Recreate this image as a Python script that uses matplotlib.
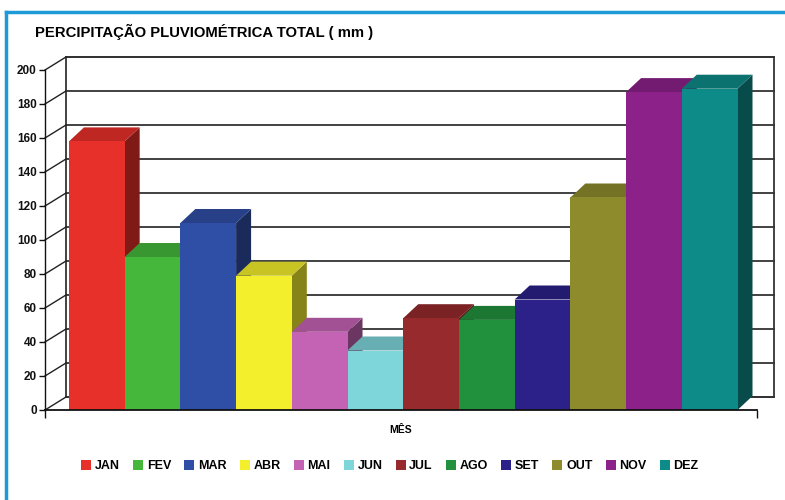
import matplotlib
matplotlib.use("Agg")
import matplotlib.pyplot as plt
from matplotlib.patches import Polygon, Rectangle
from matplotlib.lines import Line2D
import matplotlib.colors as mcolors

plt.rcParams['font.family'] = ['Liberation Sans', 'DejaVu Sans']

months = ["JAN", "FEV", "MAR", "ABR", "MAI", "JUN", "JUL", "AGO", "SET", "OUT", "NOV", "DEZ"]
values = [158, 90, 110, 79, 46, 35, 54, 53, 65, 125, 187, 189]
colors = ["#e8302a", "#45b83c", "#2f4ea6", "#f4ef2c", "#c463b4", "#7fd6da",
          "#962a2c", "#22913e", "#2b2189", "#8e8b2d", "#8b2189", "#0d8b89"]
yticks = [0, 20, 40, 60, 80, 100, 120, 140, 160, 180, 200]
title = "PERCIPITAÇÃO PLUVIOMÉTRICA TOTAL ( mm )"
xlabel = "MÊS"

W, H = 785, 500
fig = plt.figure(figsize=(W / 100, H / 100), dpi=100)
fig.patch.set_facecolor("white")

# axes: front plane from x=45..757, y=410..70 px
ax = fig.add_axes([45 / W, (H - 410) / H, (757 - 45) / W, (410 - 70) / H])
xmin, xmax = -0.43, 12.35
ax.set_xlim(xmin, xmax)
ax.set_ylim(0, 200)
ax.set_facecolor("none")

pxx = (757 - 45) / (xmax - xmin)   # px per x unit
pxy = (410 - 70) / 200.0          # px per y unit

def dxu(px):
    return px / pxx

def dyu(px):
    return px / pxy

# back wall
wl, wr, wdy = dxu(21), dxu(17), dyu(13)
wall = Polygon([(xmin + wl, wdy), (xmax + wr, wdy), (xmax + wr, 200 + wdy), (xmin + wl, 200 + wdy)],
               closed=True, facecolor="white", edgecolor="#222222", lw=1.2, clip_on=False, zorder=0)
ax.add_patch(wall)
for v in yticks:
    ax.plot([xmin + wl, xmax + wr], [v + wdy, v + wdy], color="#333333", lw=1.3,
            clip_on=False, zorder=0.5)
    ax.plot([xmin, xmin + wl], [v, v + wdy], color="#222222", lw=1.0, clip_on=False, zorder=0.5)

# 3D bars
bdx, bdy = dxu(15), dyu(14)

def shade(c, f):
    r, g, b = mcolors.to_rgb(c)
    return (r * f, g * f, b * f)

for i, (v, c) in enumerate(zip(values, colors)):
    x0, x1 = i, i + 1
    side = Polygon([(x1, 0), (x1 + bdx, bdy), (x1 + bdx, v + bdy), (x1, v)], closed=True,
                   facecolor=shade(c, 0.55), edgecolor="none", zorder=2 + i * 0.01, clip_on=False)
    top = Polygon([(x0, v), (x0 + bdx, v + bdy), (x1 + bdx, v + bdy), (x1, v)], closed=True,
                  facecolor=shade(c, 0.82), edgecolor="none", zorder=2 + i * 0.01, clip_on=False)
    ax.add_patch(side)
    ax.add_patch(top)
    ax.bar(x0, v, width=1, align="edge", color=c, edgecolor="none", zorder=2 + i * 0.01 + 0.005,
           clip_on=False)

# spines / ticks
for s in ["top", "right"]:
    ax.spines[s].set_visible(False)
ax.spines["left"].set_color("#111111")
ax.spines["bottom"].set_color("#111111")
ax.spines["left"].set_linewidth(1.0)
ax.spines["bottom"].set_linewidth(1.3)
ax.spines["bottom"].set_zorder(5)
ax.set_yticks(yticks)
ax.set_yticklabels([str(t) for t in yticks], fontsize=8.5, fontweight="bold")
ax.tick_params(axis="y", length=4, width=1, pad=2, colors="#111111")
ax.set_xticks([xmin, xmax])
ax.set_xticklabels(["", ""])
ax.tick_params(axis="x", length=6, width=1, colors="#111111")
ax.set_xlabel(xlabel, fontsize=7.5, fontweight="bold", labelpad=1)

fig.text(35 / W, 1 - 32 / H, title, fontsize=10.7, fontweight="bold", ha="left", va="center")

handles = [Rectangle((0, 0), 1, 1, facecolor=c, edgecolor="none") for c in colors]
fig.legend(handles, months, ncol=12, loc="center", bbox_to_anchor=(390 / W, 1 - 466 / H),
           frameon=False, handlelength=0.8, handleheight=0.8, handletextpad=0.3,
           columnspacing=1.05, prop={"size": 9, "weight": "bold"})

# outer frame: left and top edges only
fig.add_artist(Line2D([6 / W, 6 / W], [0, 1 - 12 / H], transform=fig.transFigure,
                      color="#1f9ad8", lw=2.5))
fig.add_artist(Line2D([6 / W, 1], [1 - 12 / H, 1 - 12 / H], transform=fig.transFigure,
                      color="#1f9ad8", lw=2.5))

fig.savefig("out.png", dpi=100)
